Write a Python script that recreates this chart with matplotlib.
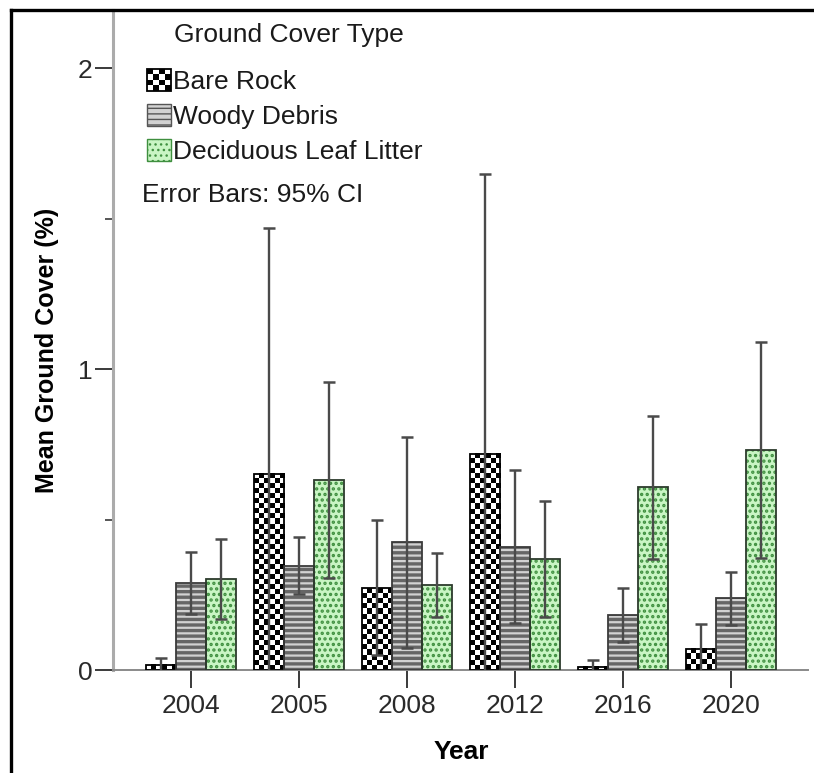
import numpy as np
import matplotlib
matplotlib.use('Agg')
import matplotlib.pyplot as plt
from matplotlib.patches import Rectangle, Patch
from matplotlib.lines import Line2D
from matplotlib.colors import ListedColormap
from matplotlib.legend_handler import HandlerBase

plt.rcParams['font.family'] = ['Liberation Sans', 'DejaVu Sans']

years = ['2004', '2005', '2008', '2012', '2016', '2020']

# means and 95% CI bounds
rock_mean = [0.017, 0.652, 0.272, 0.718, 0.010, 0.070]
rock_hi = [0.040, 1.470, 0.498, 1.648, 0.033, 0.153]
rock_lo = [-0.006, -0.160, 0.050, -0.210, -0.013, -0.013]

woody_mean = [0.289, 0.346, 0.425, 0.409, 0.183, 0.239]
woody_hi = [0.392, 0.442, 0.774, 0.664, 0.272, 0.326]
woody_lo = [0.186, 0.252, 0.073, 0.156, 0.093, 0.150]

leaf_mean = [0.302, 0.631, 0.282, 0.369, 0.608, 0.731]
leaf_hi = [0.435, 0.958, 0.389, 0.561, 0.844, 1.090]
leaf_lo = [0.169, 0.305, 0.176, 0.176, 0.369, 0.372]

labels = ['Bare Rock', 'Woody Debris', 'Deciduous Leaf Litter']

W, H = 814, 773
fig = plt.figure(figsize=(W / 100, H / 100), dpi=100)
ax = fig.add_axes([113 / W, 1 - 670 / H, (808 - 113) / W, (670 - 10) / H])

x = np.arange(len(years))
bw = 0.278
ax.set_xlim(-0.722, 5.713)
ax.set_ylim(0, 2.193)

err_col = '#4a4a4a'
leaf_face = '#c9f5c4'
leaf_dot = '#3f8f3f'

# bare rock: checkerboard image clipped into each bar
checker_cmap = ListedColormap(['white', 'black'])
rock_bars = ax.bar(x - bw, rock_mean, bw, facecolor='none', edgecolor='black',
                   linewidth=1.3, zorder=3)
for b in rock_bars:
    x0, y0 = b.get_x(), b.get_y()
    x1, y1 = x0 + b.get_width(), y0 + b.get_height()
    p0 = ax.transData.transform((x0, y0))
    p1 = ax.transData.transform((x1, y1))
    nc = max(1, int(round((p1[0] - p0[0]) / 5.0)))
    nr = max(1, int(round((p1[1] - p0[1]) / 5.0)))
    ii, jj = np.indices((nr, nc))
    ax.imshow((ii + jj) % 2, cmap=checker_cmap, vmin=0, vmax=1,
              extent=(x0, x1, y0, y1), origin='upper', aspect='auto',
              interpolation='nearest', zorder=2)

# woody debris: grey with horizontal stripes
with plt.rc_context({'hatch.linewidth': 2.4}):
    ax.bar(x, woody_mean, bw, facecolor='#d2d2d2', edgecolor='#666666',
           hatch='---', linewidth=0, zorder=2)
ax.bar(x, woody_mean, bw, facecolor='none', edgecolor='#3a3a3a',
       linewidth=1.3, zorder=3)

# deciduous leaf litter: light green with dots
with plt.rc_context({'hatch.linewidth': 1.6}):
    ax.bar(x + bw, leaf_mean, bw, facecolor=leaf_face, edgecolor=leaf_dot,
           hatch='...', linewidth=0, zorder=2)
ax.bar(x + bw, leaf_mean, bw, facecolor='none', edgecolor='#2c3a2c',
       linewidth=1.3, zorder=3)

ax.set_xlim(-0.722, 5.713)
ax.set_ylim(0, 2.193)

# error bars
for off, m, lo, hi in [(-bw, rock_mean, rock_lo, rock_hi),
                       (0, woody_mean, woody_lo, woody_hi),
                       (bw, leaf_mean, leaf_lo, leaf_hi)]:
    m = np.array(m)
    yerr = [m - np.array(lo), np.array(hi) - m]
    ax.errorbar(x + off, m, yerr=yerr, fmt='none', ecolor=err_col,
                elinewidth=1.7, capsize=4, capthick=1.8, zorder=4)

# axes styling
for s in ['top', 'right']:
    ax.spines[s].set_visible(False)
ax.spines['left'].set_color('#ababab')
ax.spines['left'].set_linewidth(2.2)
ax.spines['bottom'].set_color('#8a8a8a')
ax.spines['bottom'].set_linewidth(1.4)

ax.set_xticks(x)
ax.set_xticklabels(years)
ax.set_yticks([0, 1, 2])
ax.set_yticks([0.5, 1.5], minor=True)
ax.tick_params(axis='x', length=13, width=1.4, color='#3a3a3a', pad=4,
               labelsize=19, labelcolor='#2a2a2a')
ax.tick_params(axis='y', which='major', length=13, width=1.4, color='#3a3a3a',
               pad=2, labelsize=19, labelcolor='#2a2a2a')
ax.tick_params(axis='y', which='minor', length=6, width=1.2, color='#3a3a3a')

fig.text(47 / W, 1 - 350 / H, 'Mean Ground Cover (%)', rotation=90,
         ha='center', va='center', fontsize=18, fontweight='bold')
fig.text(461 / W, 1 - 752 / H, 'Year', ha='center', va='center',
         fontsize=19, fontweight='bold')


# legend
class CheckerHandler(HandlerBase):
    def create_artists(self, legend, orig_handle, xdescent, ydescent,
                       width, height, fontsize, trans):
        n = 4
        arts = [Rectangle((-xdescent, -ydescent), width, height,
                          facecolor='white', edgecolor='none', transform=trans)]
        for i in range(n):
            for j in range(n):
                if (i + j) % 2 == 1:
                    arts.append(Rectangle((-xdescent + i * width / n,
                                           -ydescent + j * height / n),
                                          width / n, height / n,
                                          facecolor='black', edgecolor='none',
                                          transform=trans))
        arts.append(Rectangle((-xdescent, -ydescent), width, height,
                              facecolor='none', edgecolor='black', lw=1.3,
                              transform=trans))
        return arts


rock_h = Patch(facecolor='white', edgecolor='black')
with plt.rc_context({'hatch.linewidth': 2.4}):
    woody_h = Patch(facecolor='#d2d2d2', edgecolor='#555555', hatch='---')
with plt.rc_context({'hatch.linewidth': 1.6}):
    leaf_h = Patch(facecolor=leaf_face, edgecolor=leaf_dot, hatch='...')

fig.text(289 / W, 1 - 35 / H, 'Ground Cover Type', ha='center', va='center',
         fontsize=19, color='#1a1a1a')

leg = ax.legend([rock_h, woody_h, leaf_h], labels,
                handler_map={rock_h: CheckerHandler()},
                loc='upper left', bbox_to_anchor=(147 / W, 1 - 69 / H),
                bbox_transform=fig.transFigure, frameon=False, fontsize=19,
                handlelength=0.9, handleheight=0.9,
                handletextpad=0.1, labelspacing=0.37, borderpad=0,
                borderaxespad=0)
for t in leg.get_texts():
    t.set_color('#1a1a1a')

fig.text(142 / W, 1 - 195 / H, 'Error Bars: 95% CI', ha='left', va='center',
         fontsize=19, color='#1a1a1a')

# outer frame (left and top edges)
fig.add_artist(Line2D([10.5 / W, 10.5 / W], [0, 1 - 9.5 / H], color='black',
                      linewidth=2.4, transform=fig.transFigure))
fig.add_artist(Line2D([10.5 / W, 1], [1 - 9.5 / H, 1 - 9.5 / H], color='black',
                      linewidth=2.4, transform=fig.transFigure))

fig.savefig('out.png', dpi=100)
